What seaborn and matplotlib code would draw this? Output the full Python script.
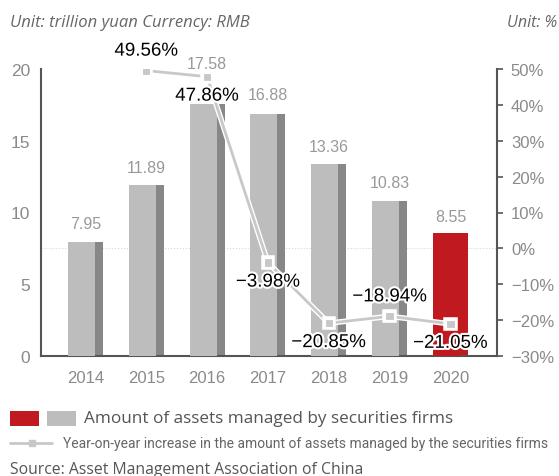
import matplotlib
matplotlib.use("Agg")
import matplotlib.pyplot as plt
import matplotlib.patheffects as pe
from matplotlib import font_manager
from matplotlib.patches import Rectangle
from matplotlib.lines import Line2D
import seaborn as sns
import numpy as np
import pandas as pd

# ---------------- DATA ----------------

years = ["2014", "2015", "2016", "2017", "2018", "2019", "2020"]
assets = [7.95, 11.89, 17.58, 16.88, 13.36, 10.83, 8.55]

yoy_years = ["2015", "2016", "2017", "2018", "2019", "2020"]
yoy = [49.56, 47.86, -3.98, -20.85, -18.94, -21.05]

left_ticks = [0, 5, 10, 15, 20]
right_ticks = [-30, -20, -10, 0, 10, 20, 30, 40, 50]

# ---------------- STYLE ----------------

sns.set_theme(style="white")
plt.rcParams["font.family"] = ["Liberation Sans", "DejaVu Sans"]
plt.rcParams["axes.unicode_minus"] = True

installed = {f.name for f in font_manager.fontManager.ttflist}
narrow_font = "Liberation Sans Narrow" if "Liberation Sans Narrow" in installed else "Roboto"
round_font = "Open Sans"

RED = "#c0191f"
LIGHT = "#bdbdbd"
DARK = "#878787"
LINE = "#c8c8c8"
AXIS = "#555555"
TICK = "#8a8a8a"

W, H = 559, 477
fig = plt.figure(figsize=(W / 100, H / 100), dpi=100)
ax = fig.add_axes([41 / W, 1 - 357 / H, 456 / W, 287 / H])

# ---------------- BARS ----------------

df = pd.DataFrame({"year": years, "assets": assets})
dark_pal = [DARK] * (len(years) - 1) + [RED]
light_pal = [LIGHT] * (len(years) - 1) + [RED]

full_w, front_w = 0.576, 0.444
sns.barplot(data=df, x="year", y="assets", hue="year", palette=dark_pal,
            width=full_w, saturation=1, errorbar=None, legend=False,
            ax=ax, zorder=2, linewidth=0, edgecolor="none")
n_back = len(ax.patches)
sns.barplot(data=df, x="year", y="assets", hue="year", palette=light_pal,
            width=front_w, saturation=1, errorbar=None, legend=False,
            ax=ax, zorder=3, linewidth=0, edgecolor="none")
for p in ax.patches[n_back:]:
    p.set_x(p.get_x() - (full_w - front_w) / 2)

label_lift = [13, 13, 29, 14, 13, 13, 12]
for i, v in enumerate(assets):
    ax.annotate(f"{v:.2f}", (i, v), xytext=(0, label_lift[i]),
                textcoords="offset points", ha="center", va="center",
                fontsize=11.5, color="#999999", zorder=5)

ax.set_ylim(0, 20)
ax.set_yticks(left_ticks)
ax.set_xlabel("")
ax.set_ylabel("")

# ---------------- YOY LINE ----------------

ax2 = ax.twinx()
ax2.set_ylim(right_ticks[0], right_ticks[-1])
ax2.set_yticks(right_ticks)
ax2.set_yticklabels([f"{t}%".replace("-", "\u2212") for t in right_ticks])

# dotted zero line of the right axis, drawn behind the bars
zero_left = 20 * (0 - right_ticks[0]) / (right_ticks[-1] - right_ticks[0])
ax.axhline(zero_left, color="#d6d6d6", lw=0.8, ls=":", zorder=1)

pos = [years.index(y) for y in yoy_years]
sns.lineplot(x=pos, y=yoy, ax=ax2, color=LINE, lw=2, marker="s",
             markersize=6, markeredgecolor="white", markeredgewidth=0.8,
             path_effects=[pe.Stroke(linewidth=4, foreground="white"), pe.Normal()],
             zorder=4)

side = [1, -1, -1, -1, 1, -1]
for x, v, s in zip(pos, yoy, side):
    ax2.annotate(f"{v:.2f}%".replace("-", "\u2212"), (x, v), xytext=(0, 14 * s),
                 textcoords="offset points", ha="center", va="center",
                 fontsize=13.5, color="black", zorder=6,
                 path_effects=[pe.withStroke(linewidth=3, foreground="white")])

ax.set_xlim(-0.73, 6.765)

# ---------------- AXES ----------------

for sp in ["top", "right"]:
    ax.spines[sp].set_visible(False)
for sp in ["left", "bottom"]:
    ax.spines[sp].set_color(AXIS)
    ax.spines[sp].set_linewidth(1.5)
for sp in ["top", "left", "bottom"]:
    ax2.spines[sp].set_visible(False)
ax2.spines["right"].set_color(AXIS)
ax2.spines["right"].set_linewidth(1.5)

ax.tick_params(axis="y", length=0, pad=8, labelsize=12.5, labelcolor=TICK)
ax.tick_params(axis="x", length=0, pad=10, labelsize=12, labelcolor=TICK)
ax2.tick_params(axis="y", direction="out", length=4, width=1.2, color=AXIS,
                pad=6, labelsize=12, labelcolor=TICK)
ax.grid(False)
ax2.grid(False)
ax2.set_ylabel("")

# ---------------- HEADER / LEGEND / SOURCE ----------------

fig.text(10 / W, 1 - 27 / H, "Unit: trillion yuan Currency: RMB", family=round_font,
         style="italic", fontsize=12, color="#666666", va="baseline")
fig.text(557 / W, 1 - 27 / H, "Unit: %", family=round_font, style="italic",
         fontsize=11.5, color="#666666", va="baseline", ha="right")

fig.add_artist(Rectangle((10 / W, 1 - 427 / H), 29 / W, 15 / H,
                         transform=fig.transFigure, color=RED, lw=0))
fig.add_artist(Rectangle((47 / W, 1 - 427 / H), 29 / W, 15 / H,
                         transform=fig.transFigure, color=LIGHT, lw=0))
fig.text(84 / W, 1 - 419 / H, "Amount of assets managed by securities firms",
         family=round_font, fontsize=12.3, color="#555555", va="center")

fig.add_artist(Line2D([10 / W, 52 / W], [1 - 444 / H] * 2, transform=fig.transFigure,
                      color=LINE, lw=2))
fig.add_artist(Line2D([32 / W], [1 - 444 / H], transform=fig.transFigure,
                      color=LINE, marker="s", markersize=5, lw=0))
fig.text(63 / W, 1 - 444 / H,
         "Year-on-year increase in the amount of assets managed by the securities firms",
         family=narrow_font, fontsize=10, color="#666666", va="center")

fig.text(10 / W, 1 - 474 / H, "Source: Asset Management Association of China",
         family=round_font, fontsize=11.3, color="#555555", va="baseline")

fig.savefig("out.png", dpi=100)
